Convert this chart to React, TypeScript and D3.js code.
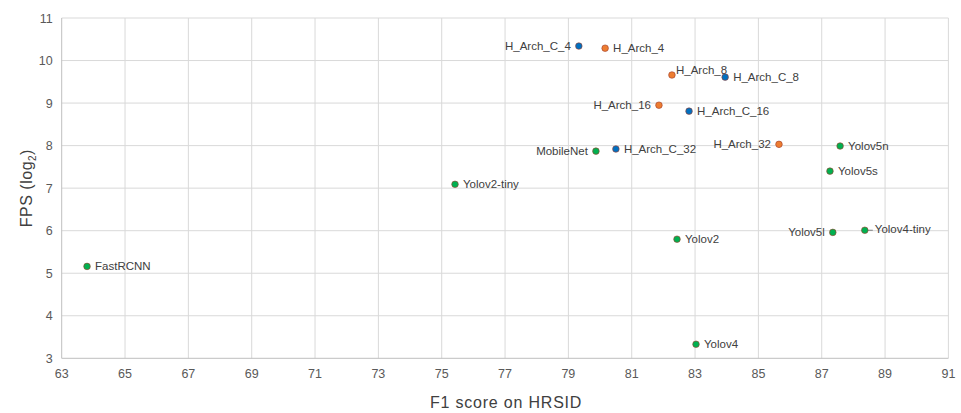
import React from "react";
import * as d3 from "d3";

const names = ["H_Arch_C_4","H_Arch_4","H_Arch_8","H_Arch_C_8","H_Arch_16","H_Arch_C_16","MobileNet","H_Arch_C_32","H_Arch_32","Yolov5n","Yolov5s","Yolov2-tiny","Yolov5l","Yolov4-tiny","Yolov2","FastRCNN","Yolov4"];
const f1 = [79.33,80.16,82.27,83.95,81.86,82.81,79.87,80.5,85.65,87.58,87.26,75.42,87.35,88.36,82.43,63.8,83.03];
const fps = [10.34,10.29,9.66,9.61,8.95,8.81,7.87,7.92,8.03,7.99,7.4,7.09,5.96,6.01,5.8,5.16,3.33];
const groups = ["C","H","H","C","H","C","O","C","H","O","O","O","O","O","O","O","O"];
const labelSide = ["L","R","RU","R","L","R","L","R","L","R","R","R","L","RL","R","R","R"];
const xTicks = [63,65,67,69,71,73,75,77,79,81,83,85,87,89,91];
const yTicks = [3,4,5,6,7,8,9,10,11];

const colors: Record<string,string> = { C: "#0070C0", H: "#ED7D31", O: "#00B050" };

export default function App() {
  const W = 961, H = 413;
  const x = d3.scaleLinear().domain([63, 91]).range([61.7, 948.4]);
  const y = d3.scaleLinear().domain([3, 11]).range([358.3, 18]);
  const font = "'Liberation Sans', Arial, sans-serif";
  return (
    <svg width={W} height={H} style={{ position: "absolute", left: 0, top: 0, background: "#fff" }} fontFamily={font}>
      {xTicks.slice(1).map(t => (
        <line key={"gx"+t} x1={x(t)} x2={x(t)} y1={y(11)} y2={y(3)} stroke="#d9d9d9" strokeWidth={1} />
      ))}
      {yTicks.slice(1).map(t => (
        <line key={"gy"+t} x1={x(63)} x2={x(91)} y1={y(t)} y2={y(t)} stroke="#d9d9d9" strokeWidth={1} />
      ))}
      <line x1={x(63)} x2={x(63)} y1={y(11)} y2={y(3)} stroke="#bfbfbf" />
      <line x1={x(63)} x2={x(91)} y1={y(3)} y2={y(3)} stroke="#bfbfbf" />
      {xTicks.map(t => (
        <text key={"tx"+t} x={x(t)} y={y(3) + 20} textAnchor="middle" fontSize={12.5} fill="#595959">{t}</text>
      ))}
      {yTicks.map(t => (
        <text key={"ty"+t} x={x(63) - 9} y={y(t) + 4.5} textAnchor="end" fontSize={12.5} fill="#595959">{t}</text>
      ))}
      <text x={(x(63) + x(91)) / 2 + 1} y={408} textAnchor="middle" fontSize={16} letterSpacing={0.8} fill="#404040">F1 score on HRSID</text>
      <text transform={`translate(32,${(y(3) + y(11)) / 2}) rotate(-90)`} textAnchor="middle" fontSize={16} letterSpacing={0.5} fill="#404040">
        FPS (log<tspan fontSize={10} dy={4}>2</tspan><tspan dy={-4}>)</tspan>
      </text>
      {names.map((n, i) => {
        const px = x(f1[i]), py = y(fps[i]);
        const side = labelSide[i];
        let tx = px + 8, ty = py + 4, anchor: "start" | "end" = "start";
        if (side === "L") { tx = px - 8; anchor = "end"; }
        if (side === "RU") { tx = px + 4; ty = py - 1; }
        if (side === "RL") { tx = px + 10; ty = py + 3; }
        return (
          <g key={n}>
            {side === "RL" && <line x1={px + 2} x2={px + 8} y1={py} y2={py} stroke="#7f7f7f" strokeWidth={1} />}
            <circle cx={px} cy={py} r={3.3} fill={colors[groups[i]]} stroke="#9e3b2a" strokeWidth={0.6} />
            <text x={tx} y={ty} textAnchor={anchor} fontSize={11.5} fill="#404040">{n}</text>
          </g>
        );
      })}
    </svg>
  );
}
